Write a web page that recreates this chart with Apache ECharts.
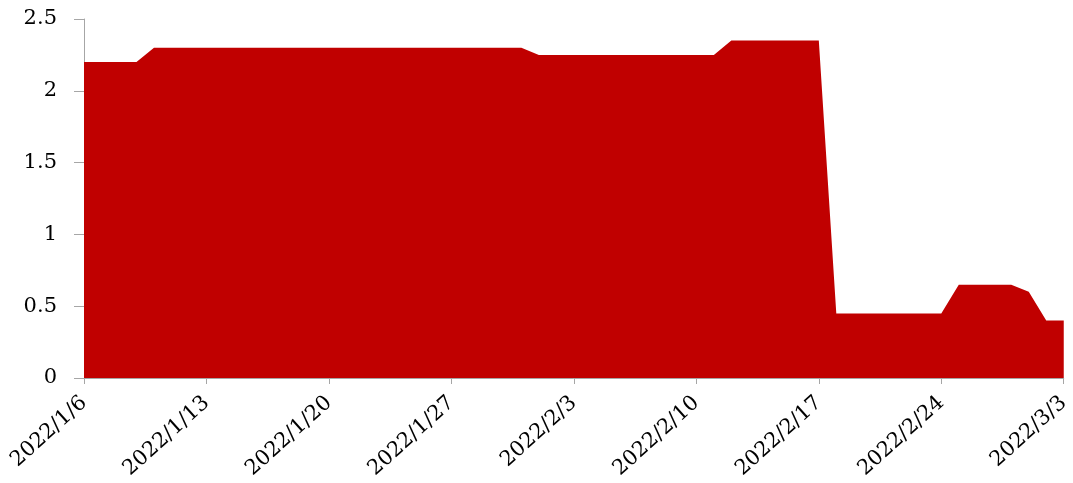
<!DOCTYPE html>
<html>
<head>
<meta charset="utf-8">
<script src="https://cdn.jsdelivr.net/npm/echarts@6/dist/echarts.min.js"></script>
<style>
html,body{margin:0;padding:0;background:#fff;}
#chart{width:1073px;height:483px;}
</style>
</head>
<body>
<div id="chart"></div>
<script>
// Dates: daily from 2022/1/6 to 2022/3/3
const categories = [
  "2022/1/6","2022/1/7","2022/1/8","2022/1/9","2022/1/10","2022/1/11","2022/1/12",
  "2022/1/13","2022/1/14","2022/1/15","2022/1/16","2022/1/17","2022/1/18","2022/1/19",
  "2022/1/20","2022/1/21","2022/1/22","2022/1/23","2022/1/24","2022/1/25","2022/1/26",
  "2022/1/27","2022/1/28","2022/1/29","2022/1/30","2022/1/31","2022/2/1","2022/2/2",
  "2022/2/3","2022/2/4","2022/2/5","2022/2/6","2022/2/7","2022/2/8","2022/2/9",
  "2022/2/10","2022/2/11","2022/2/12","2022/2/13","2022/2/14","2022/2/15","2022/2/16",
  "2022/2/17","2022/2/18","2022/2/19","2022/2/20","2022/2/21","2022/2/22","2022/2/23",
  "2022/2/24","2022/2/25","2022/2/26","2022/2/27","2022/2/28","2022/3/1","2022/3/2",
  "2022/3/3"
];
const values = [
  2.2,2.2,2.2,2.2,2.3,2.3,2.3,
  2.3,2.3,2.3,2.3,2.3,2.3,2.3,
  2.3,2.3,2.3,2.3,2.3,2.3,2.3,
  2.3,2.3,2.3,2.3,2.3,2.25,2.25,
  2.25,2.25,2.25,2.25,2.25,2.25,2.25,
  2.25,2.25,2.35,2.35,2.35,2.35,2.35,
  2.35,0.45,0.45,0.45,0.45,0.45,0.45,
  0.45,0.65,0.65,0.65,0.65,0.6,0.4,
  0.4
];
const yTicks = [0, 0.5, 1, 1.5, 2, 2.5];

const chart = echarts.init(document.getElementById('chart'));
const font = 'DejaVu Serif';
chart.setOption({
  animation: false,
  grid: {left: 84, right: 6, top: 19, bottom: 105, containLabel: false},
  xAxis: {
    type: 'category',
    data: categories,
    boundaryGap: false,
    axisLine: {lineStyle: {color: '#a6a6a6', width: 1}},
    axisTick: {interval: 6, length: 6, lineStyle: {color: '#a6a6a6'}},
    axisLabel: {
      interval: 6, rotate: 42, margin: 22,
      color: '#000', fontFamily: font, fontSize: 21
    },
    splitLine: {show: false}
  },
  yAxis: {
    type: 'value',
    min: yTicks[0], max: yTicks[yTicks.length - 1], interval: 0.5,
    axisLine: {show: true, lineStyle: {color: '#a6a6a6', width: 1}},
    axisTick: {show: true, length: 10, lineStyle: {color: '#a6a6a6'}},
    axisLabel: {
      margin: 27, color: '#000', fontFamily: font, fontSize: 21,
      formatter: v => String(v)
    },
    splitLine: {show: false}
  },
  series: [{
    type: 'line',
    data: values,
    symbol: 'none',
    lineStyle: {width: 0, color: '#c00000'},
    areaStyle: {color: '#c00000', opacity: 1},
    itemStyle: {color: '#c00000'}
  }]
});
</script>
</body>
</html>
